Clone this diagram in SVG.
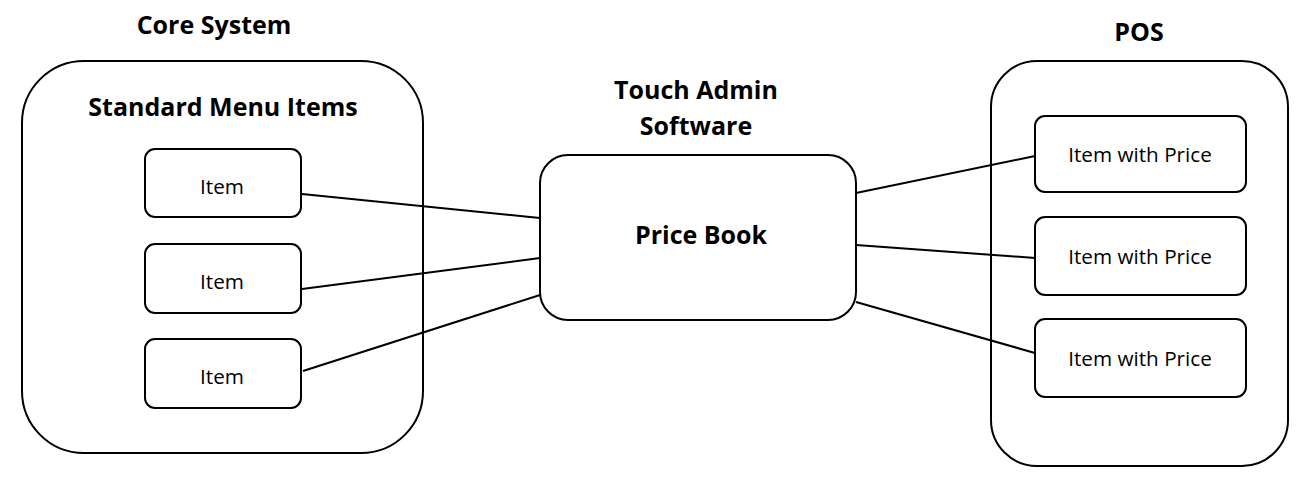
<svg xmlns="http://www.w3.org/2000/svg" width="1305" height="487" viewBox="0 0 1305 487">
<style>
.box{fill:#fff;stroke:#000;stroke-width:2}
.t{font-family:"Open Sans","Liberation Sans",sans-serif;fill:#000;text-anchor:middle}
.b{font-weight:bold;font-size:25px}
.n{font-size:20.7px}
.c{stroke:#000;stroke-width:2;fill:none}
</style>
<rect width="1305" height="487" fill="#fff"/>
<g id="core-system">
<text class="t b" x="214" y="34">Core System</text>
<rect class="box" x="22" y="61" width="401" height="392" rx="62"/>
<text class="t b" x="223" y="116">Standard Menu Items</text>
</g>
<g id="item1"><rect class="box" x="145" y="149" width="156" height="68" rx="10"/><text class="t n" x="222" y="194">Item</text></g>
<g id="item2"><rect class="box" x="145" y="244" width="156" height="69" rx="10"/><text class="t n" x="222" y="289">Item</text></g>
<g id="item3"><rect class="box" x="145" y="339" width="156" height="69" rx="10"/><text class="t n" x="222" y="384">Item</text></g>
<g id="price-book">
<text class="t b" x="696" y="99">Touch Admin</text>
<text class="t b" x="696" y="135">Software</text>
<rect class="box" x="540" y="155" width="316" height="165" rx="28"/>
<text class="t b" x="701" y="244">Price Book</text>
</g>
<g id="pos">
<text class="t b" x="1139" y="41">POS</text>
<rect class="box" x="991" y="61" width="297" height="405" rx="46"/>
</g>
<g id="pos-item1"><rect class="box" x="1035" y="116" width="211" height="76" rx="10"/><text class="t n" x="1140" y="162">Item with Price</text></g>
<g id="pos-item2"><rect class="box" x="1035" y="217" width="211" height="78" rx="10"/><text class="t n" x="1140" y="264">Item with Price</text></g>
<g id="pos-item3"><rect class="box" x="1035" y="319" width="211" height="78" rx="10"/><text class="t n" x="1140" y="366">Item with Price</text></g>
<g id="connectors">
<line class="c" x1="302" y1="194" x2="540" y2="218"/>
<line class="c" x1="302" y1="289" x2="540" y2="258"/>
<line class="c" x1="303" y1="371" x2="540" y2="295"/>
<line class="c" x1="856" y1="193" x2="1035" y2="156"/>
<line class="c" x1="856" y1="245" x2="1035" y2="258"/>
<line class="c" x1="856" y1="302" x2="1035" y2="353"/>
</g>
</svg>
